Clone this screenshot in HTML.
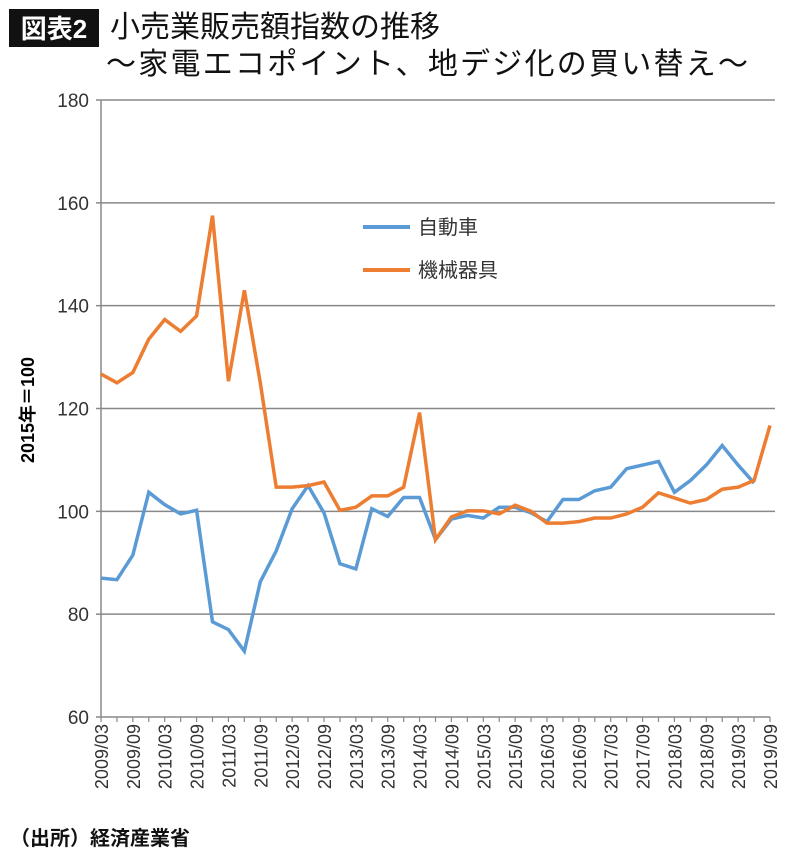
<!DOCTYPE html>
<html><head><meta charset="utf-8"><style>
body{margin:0;background:#fff;width:800px;height:861px;overflow:hidden;font-family:"Liberation Sans","Noto Sans CJK JP",sans-serif}
</style></head><body>
<svg width="800" height="861" font-family="Liberation Sans, Noto Sans CJK JP, sans-serif">
<rect x="9" y="9" width="90" height="38" fill="#111"/>
<text x="54" y="38" fill="#fff" font-size="26" text-anchor="middle" font-weight="bold">図表2</text>
<text x="110" y="37" font-size="30" fill="#111">小売業販売額指数の推移</text>
<text x="106" y="74" font-size="30" fill="#111" textLength="642" lengthAdjust="spacing">～家電エコポイント、地デジ化の買い替え～</text>
<g id="grid"></g><g id="axes"></g><g id="series"></g>
<text transform="translate(34,410) rotate(-90)" font-size="18" font-weight="bold" text-anchor="middle">2015年＝100</text>
<g>
<line x1="363" y1="227" x2="410" y2="227" stroke="#5b9bd5" stroke-width="4"/>
<text x="418" y="234" font-size="20" fill="#333">自動車</text>
<line x1="363" y1="270" x2="410" y2="270" stroke="#ed7d31" stroke-width="4"/>
<text x="418" y="277" font-size="20" fill="#333">機械器具</text>
</g>
<text x="10" y="845" font-size="20" font-weight="bold" fill="#111">（出所）経済産業省</text>
</svg>
<script>
const yTicks=[60,80,100,120,140,160,180];
const xLabels=["2009/03","2009/09","2010/03","2010/09","2011/03","2011/09","2012/03","2012/09","2013/03","2013/09","2014/03","2014/09","2015/03","2015/09","2016/03","2016/09","2017/03","2017/09","2018/03","2018/09","2019/03","2019/09"];
const autoValues=[87,86.7,91.5,103.7,101.3,99.5,100.2,78.5,77,72.8,86.3,92.3,100.5,105,99.7,89.8,88.8,100.5,99,102.7,102.7,94.5,98.5,99.2,98.7,100.8,100.8,99.7,98,102.3,102.3,104,104.7,108.3,109,109.7,103.7,106,109,112.8,109,105.5];
const machineryValues=[126.7,125,127,133.5,137.3,135,138,157.5,125.3,143,125,104.7,104.7,105,105.7,100.2,100.8,103,103,104.7,119.2,94.5,98.9,100.1,100.1,99.5,101.2,100,97.7,97.7,98,98.7,98.7,99.5,100.8,103.6,102.6,101.6,102.3,104.3,104.7,106,116.7];
const NS="http://www.w3.org/2000/svg";
const X0=101,X1=770,nQ=43,Y60=717,Y180=100;
const xq=i=>X0+(X1-X0)*i/(nQ-1);
const y=v=>Y60+(v-60)*(Y180-Y60)/120;
function mk(t,a,p){const e=document.createElementNS(NS,t);for(const k in a)e.setAttribute(k,a[k]);p.appendChild(e);return e;}
const grid=document.getElementById('grid'),axes=document.getElementById('axes'),ser=document.getElementById('series');
yTicks.forEach(v=>{
 if(v>60){const l=mk('line',{x1:X0,x2:775,y1:y(v),y2:y(v),stroke:'#888','stroke-width':1.5},grid);
 
 }
 const tk=mk('line',{x1:X0-5,x2:X0,y1:y(v),y2:y(v),stroke:'#888','stroke-width':1.5},axes);
 
 
 const t=mk('text',{x:X0-12,y:y(v)+7,'font-size':19,'text-anchor':'end',fill:'#333'},axes);t.textContent=v;
 
 
});
const ya=mk('line',{x1:X0,x2:X0,y1:y(180),y2:Y60,stroke:'#888','stroke-width':1.5},axes);


const xa=mk('line',{x1:X0,x2:X1,y1:Y60,y2:Y60,stroke:'#888','stroke-width':1.5},axes);


for(let i=0;i<nQ;i++){const tk=mk('line',{x1:xq(i),x2:xq(i),y1:Y60,y2:Y60+5,stroke:'#888','stroke-width':1.2},axes);
 
 }
xLabels.forEach((s,k)=>{const x=xq(k*2);
 const t=mk('text',{transform:`translate(${x+7},724) rotate(-90)`,'font-size':18,'text-anchor':'end',fill:'#333'},axes);t.textContent=s;
 
 });
function line(vals,color,name){
 const p=mk('polyline',{points:vals.map((v,i)=>xq(i)+','+y(v)).join(' '),fill:'none',stroke:color,'stroke-width':3.5,'stroke-linejoin':'miter'},ser);
 
 }
line(autoValues,'#5b9bd5','series-auto');
line(machineryValues,'#ed7d31','series-machinery');
</script>
</body></html>
